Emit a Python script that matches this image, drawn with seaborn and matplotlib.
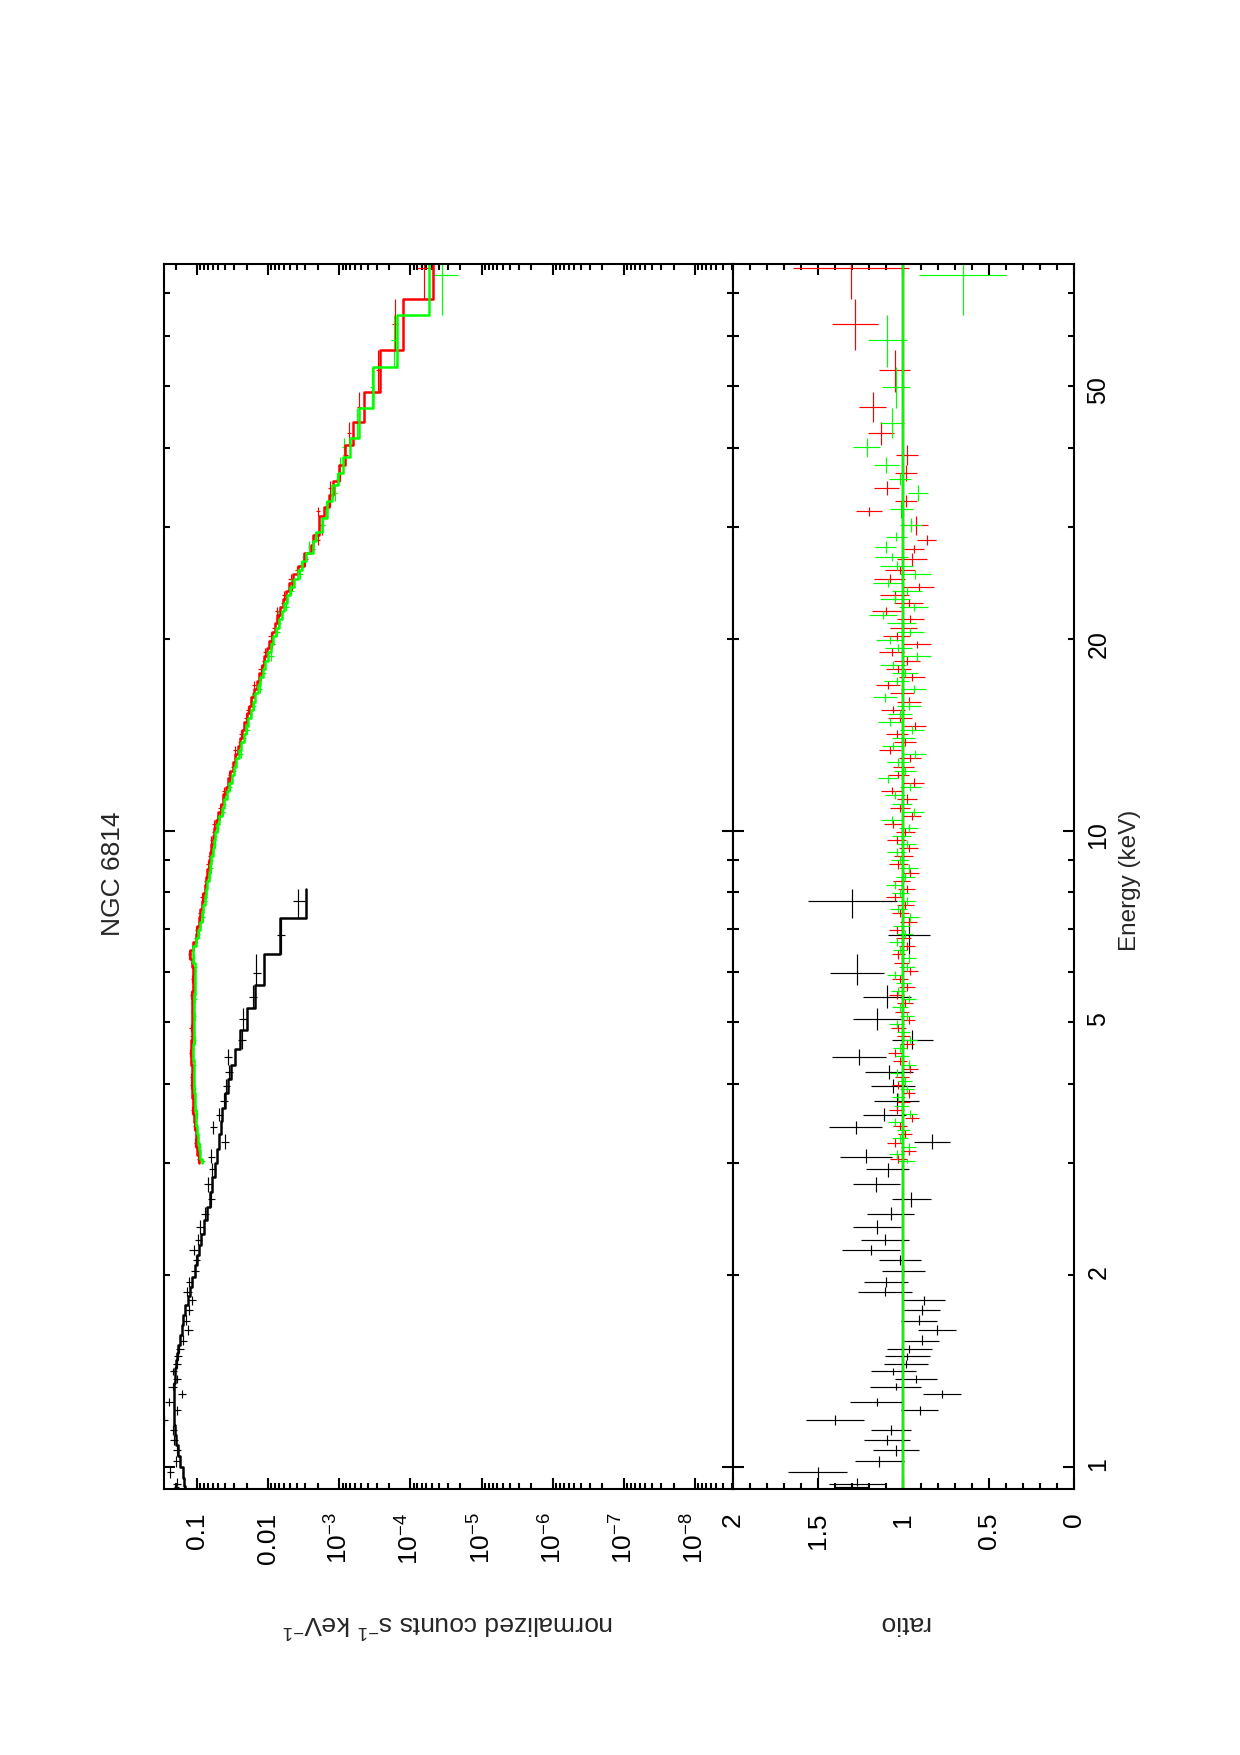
import numpy as np
import pandas as pd
import seaborn as sns
import matplotlib
matplotlib.use("Agg")
import matplotlib.pyplot as plt
from matplotlib.ticker import (FixedLocator, FixedFormatter, FuncFormatter,
                               LogLocator, NullFormatter, MultipleLocator)

# --- low energy spectrum (black), bin centres in keV ---
blk_e = [0.927, 0.939, 0.98, 1.019, 1.06, 1.099, 1.143, 1.184, 1.225, 1.262,
         1.30, 1.336, 1.371, 1.411, 1.451, 1.49, 1.53, 1.578, 1.637, 1.696,
         1.764, 1.829, 1.883, 1.951, 2.029, 2.114, 2.189, 2.272, 2.379, 2.498,
         2.63, 2.778, 2.932, 3.07, 3.24, 3.42, 3.57, 3.76, 3.97, 4.17,
         4.40, 4.68, 5.05, 5.47, 5.98, 6.84, 7.75]
blk_first_edge = 0.915
blk_last_edge = 8.08
blk_model = [0.149, 0.152, 0.158, 0.172, 0.185, 0.195, 0.203, 0.208, 0.211, 0.213,
             0.213, 0.211, 0.207, 0.203, 0.197, 0.190, 0.183, 0.175, 0.165, 0.157,
             0.146, 0.135, 0.126, 0.116, 0.108, 0.100, 0.094, 0.087, 0.080, 0.072,
             0.066, 0.061, 0.056, 0.052, 0.049, 0.0462, 0.0439, 0.0404, 0.0366, 0.0328,
             0.0295, 0.0246, 0.0198, 0.0151, 0.0115, 0.0069, 0.0029]
blk_ratio = [1.30, 1.27, 1.503, 1.142, 1.044, 1.095, 1.075, 1.402, 0.905, 1.157,
             0.772, 1.046, 0.925, 1.06, 0.985, 0.978, 0.966, 0.893, 0.802, 0.911,
             0.891, 0.881, 1.108, 1.103, 1.001, 1.019, 1.19, 1.108, 1.153, 1.075,
             0.954, 1.159, 1.093, 1.218, 0.833, 1.28, 1.112, 1.04, 1.06, 1.087,
             1.259, 0.948, 1.157, 1.097, 1.271, 0.966, 1.30]
blk_err = [0.10, 0.165, 0.173, 0.145, 0.135, 0.136, 0.117, 0.171, 0.107, 0.155,
           0.111, 0.15, 0.122, 0.132, 0.129, 0.131, 0.131, 0.104, 0.113, 0.106,
           0.107, 0.125, 0.16, 0.128, 0.125, 0.122, 0.17, 0.14, 0.141, 0.136,
           0.116, 0.138, 0.127, 0.152, 0.106, 0.155, 0.128, 0.13, 0.13, 0.14,
           0.159, 0.12, 0.14, 0.14, 0.159, 0.124, 0.26]

# --- hard X-ray module A (red), bin edges in keV ---
red_edges = [3.00, 3.09, 3.18, 3.28, 3.38, 3.48, 3.58, 3.69, 3.80, 3.92,
             4.04, 4.16, 4.28, 4.41, 4.54, 4.68, 4.82, 4.96, 5.11, 5.27,
             5.43, 5.59, 5.76, 5.93, 6.11, 6.29, 6.48, 6.68, 6.88, 7.08,
             7.30, 7.52, 7.74, 7.97, 8.21, 8.46, 8.71, 8.98, 9.25, 9.52,
             9.81, 10.1, 10.4, 10.7, 11.0, 11.4, 11.7, 12.1, 12.4, 12.8,
             13.2, 13.6, 14.0, 14.4, 14.8, 15.3, 15.7, 16.2, 16.7, 17.2,
             17.7, 18.2, 18.8, 19.4, 19.9, 20.5, 21.2, 21.8, 22.5, 23.1,
             23.8, 24.5, 25.3, 26.1, 27.3, 28.1, 29.2, 31.2, 32.3, 33.7,
             35.4, 37.6, 40.4, 43.9, 48.9, 56.9, 68.5, 85.0]
red_model = [0.0933, 0.0989, 0.102, 0.105, 0.108, 0.110, 0.113, 0.115, 0.116, 0.118,
             0.119, 0.119, 0.120, 0.120, 0.120, 0.119, 0.119, 0.118, 0.117, 0.116,
             0.116, 0.115, 0.114, 0.114, 0.116, 0.124, 0.115, 0.105, 0.0993, 0.0944,
             0.0897, 0.0857, 0.0818, 0.0782, 0.0746, 0.0714, 0.0684, 0.0655, 0.0630, 0.0605,
             0.0586, 0.0547, 0.0506, 0.0468, 0.0428, 0.0396, 0.0367, 0.0340, 0.0316, 0.0292,
             0.0269, 0.0251, 0.0232, 0.0216, 0.0200, 0.0184, 0.0172, 0.0158, 0.0146, 0.0135,
             0.0124, 0.0115, 0.0105, 0.00966, 0.00891, 0.00813, 0.00741, 0.00676, 0.00617, 0.00562,
             0.00513, 0.00447, 0.0038, 0.00316,
             2.54e-3, 2.33e-3, 1.92e-3, 1.64e-3, 1.39e-3, 1.22e-3, 1.007e-3, 8.37e-4, 6.4e-4,
             4.52e-4, 2.69e-4, 1.29e-4, 4.89e-5]
red_ratio = [1.03, 0.97, 1.05, 0.99, 1.02, 0.95, 1.04, 1.00, 0.97, 1.03,
             1.01, 0.96, 1.02, 1.05, 0.98, 1.00, 1.03, 0.97, 1.01, 0.99,
             1.04, 0.98, 1.02, 0.96, 1.01, 1.03, 0.98, 1.00, 1.04, 0.97,
             1.02, 0.99, 1.05, 0.98, 1.01, 0.96, 1.03, 1.00, 0.97, 1.04,
             0.99,
             1.06, 0.95, 1.02, 0.98, 1.07, 0.94, 1.03, 1.00, 0.96, 1.08,
             0.99, 1.04, 0.93, 1.02, 1.06, 0.97, 1.01, 1.09, 0.95, 1.03,
             0.98, 1.07, 0.92, 1.04, 1.00, 0.96, 1.10, 0.97, 1.05, 0.91,
             1.08, 1.02, 0.95,
             0.937, 0.864, 0.926, 1.203, 0.984, 1.098, 0.984, 0.98, 1.133, 1.181,
             1.052, 1.285, 1.306]
red_err = [0.05, 0.045, 0.045, 0.04, 0.04, 0.04, 0.045, 0.04, 0.04, 0.04,
           0.04, 0.045, 0.04, 0.04, 0.04, 0.04, 0.045, 0.04, 0.04, 0.045,
           0.045, 0.045, 0.045, 0.045, 0.045, 0.04, 0.045, 0.045, 0.045, 0.05,
           0.05, 0.05, 0.05, 0.05, 0.05, 0.05, 0.055, 0.055, 0.055, 0.055,
           0.055,
           0.055, 0.055, 0.06, 0.06, 0.06, 0.06, 0.06, 0.06, 0.065, 0.065,
           0.065, 0.065, 0.065, 0.07, 0.07, 0.07, 0.07, 0.07, 0.075, 0.075,
           0.075, 0.075, 0.08, 0.08, 0.08, 0.08, 0.085, 0.085, 0.085, 0.09,
           0.09, 0.09, 0.09,
           0.06, 0.056, 0.072, 0.077, 0.065, 0.073, 0.065, 0.065, 0.076, 0.08,
           0.09, 0.136, 0.34]

# --- hard X-ray module B (green) ---
grn_edges = [3.00, 3.05, 3.14, 3.23, 3.33, 3.43, 3.53, 3.64, 3.75, 3.86,
             3.98, 4.10, 4.22, 4.35, 4.48, 4.61, 4.75, 4.89, 5.04, 5.19,
             5.35, 5.51, 5.68, 5.85, 6.02, 6.20, 6.39, 6.58, 6.78, 6.98,
             7.19, 7.41, 7.63, 7.86, 8.09, 8.34, 8.59, 8.85, 9.12, 9.39,
             9.67, 9.96, 10.25, 10.55, 10.85, 11.2, 11.55, 11.9, 12.25, 12.6,
             13.0, 13.4, 13.8, 14.2, 14.6, 15.05, 15.5, 15.95, 16.45, 16.95,
             17.45, 17.95, 18.5, 19.1, 19.65, 20.2, 20.85, 21.5, 22.15, 22.8,
             23.45, 24.15, 24.9, 25.7, 26.5, 27.3, 28.5, 29.5, 31.0, 33.0,
             35.0, 36.5, 38.7, 41.4, 46.1, 53.6, 64.7, 85.0]
grn_model = [0.0841, 0.0902, 0.0944, 0.0973, 0.100, 0.102, 0.105, 0.107, 0.108, 0.110,
             0.111, 0.112, 0.112, 0.113, 0.113, 0.112, 0.112, 0.111, 0.110, 0.110,
             0.109, 0.108, 0.108, 0.107, 0.108, 0.114, 0.113, 0.102, 0.0955, 0.0908,
             0.0863, 0.0822, 0.0785, 0.0750, 0.0716, 0.0686, 0.0656, 0.0627, 0.0601, 0.0578,
             0.0558, 0.0531, 0.0490, 0.0453, 0.0416, 0.0382, 0.0354, 0.0327, 0.0304, 0.0281,
             0.0259, 0.0240, 0.0222, 0.0207, 0.0191, 0.0177, 0.0164, 0.0151, 0.0140, 0.0129,
             0.0119, 0.0110, 0.0100, 0.00923, 0.00851, 0.00780, 0.00711, 0.00649, 0.00592, 0.00540,
             0.00492, 0.00439, 0.00382, 0.00333, 0.00290,
             2.38e-3, 2.14e-3, 1.78e-3, 1.51e-3, 1.25e-3, 1.04e-3, 8.85e-4, 7.11e-4, 5.26e-4,
             3.34e-4, 1.57e-4, 5.46e-5]
grn_ratio = [0.98, 1.04, 0.97, 1.02, 1.00, 1.05, 0.96, 1.01, 1.03, 0.98,
             0.99, 1.04, 0.97, 1.01, 1.02, 0.96, 1.00, 1.04, 0.98, 1.02,
             0.97, 1.03, 1.00, 1.05, 0.98, 0.97, 1.02, 1.04, 0.99, 1.01,
             0.96, 1.03, 0.98, 1.02, 1.05, 0.99, 0.97, 1.02, 1.04, 0.98,
             1.01,
             0.97, 1.07, 0.94, 1.01, 1.05, 0.96, 1.09, 0.99, 1.03, 0.93,
             1.06, 1.00, 0.95, 1.08, 1.02, 0.97, 1.11, 0.94, 1.04, 0.99,
             1.06, 0.92, 1.03, 1.08, 0.96, 1.01, 1.12, 0.94, 1.05, 0.98,
             1.09, 0.93, 1.04, 1.07,
             1.105, 1.041, 0.955, 1.012, 0.916, 1.021, 1.101, 1.216, 1.066, 1.043,
             1.095, 0.651]
grn_err = [0.05, 0.045, 0.045, 0.045, 0.04, 0.04, 0.04, 0.045, 0.04, 0.04,
           0.04, 0.04, 0.045, 0.04, 0.04, 0.04, 0.04, 0.045, 0.04, 0.045,
           0.045, 0.045, 0.045, 0.045, 0.045, 0.045, 0.04, 0.045, 0.045, 0.05,
           0.05, 0.05, 0.05, 0.05, 0.05, 0.055, 0.055, 0.055, 0.055, 0.055,
           0.055,
           0.055, 0.06, 0.06, 0.06, 0.06, 0.06, 0.06, 0.065, 0.065, 0.065,
           0.065, 0.065, 0.07, 0.07, 0.07, 0.07, 0.07, 0.075, 0.075, 0.075,
           0.075, 0.08, 0.08, 0.08, 0.08, 0.085, 0.085, 0.085, 0.09, 0.09,
           0.09, 0.09, 0.095, 0.095,
           0.06, 0.062, 0.063, 0.065, 0.06, 0.065, 0.073, 0.08, 0.07, 0.08,
           0.115, 0.255]

# axis ticks and labels
count_ticks = [1e-8, 1e-7, 1e-6, 1e-5, 1e-4, 1e-3, 0.01, 0.1]
count_labels = [r"$\mathregular{10^{-8}}$", r"$\mathregular{10^{-7}}$", r"$\mathregular{10^{-6}}$",
                r"$\mathregular{10^{-5}}$", r"$\mathregular{10^{-4}}$", r"$\mathregular{10^{-3}}$",
                "0.01", "0.1"]
ratio_ticks = [0, 0.5, 1, 1.5, 2]
ratio_labels = ["0", "0.5", "1", "1.5", "2"]
energy_major = [1, 10]
energy_minor = [2, 3, 4, 5, 6, 7, 8, 9, 20, 30, 40, 50, 60, 70]
energy_labelled = [1, 2, 5, 10, 20, 50]

for name, n_bins, lists in [("black", len(blk_e), [blk_model, blk_ratio, blk_err]),
                            ("red", len(red_edges) - 1, [red_model, red_ratio, red_err]),
                            ("green", len(grn_edges) - 1, [grn_model, grn_ratio, grn_err])]:
    assert all(len(l) == n_bins for l in lists), name


def make_table(lo, hi, centre, model, ratio, err):
    df = pd.DataFrame({"lo": lo, "hi": hi, "e": centre, "model": model,
                       "ratio": ratio, "rerr": err})
    df["counts"] = df["model"] * df["ratio"]
    df["cerr"] = df["model"] * df["rerr"]
    return df


# black bin edges sit half way (in log) between the read bin centres
be = np.array(blk_e)
blk_edges = np.concatenate([[blk_first_edge], np.sqrt(be[:-1] * be[1:]), [blk_last_edge]])
df_blk = make_table(blk_edges[:-1], blk_edges[1:], be, blk_model, blk_ratio, blk_err)

re_ = np.array(red_edges)
df_red = make_table(re_[:-1], re_[1:], (re_[:-1] + re_[1:]) / 2, red_model, red_ratio, red_err)
ge = np.array(grn_edges)
df_grn = make_table(ge[:-1], ge[1:], (ge[:-1] + ge[1:]) / 2, grn_model, grn_ratio, grn_err)


def step_path(df):
    xs, ys = [], []
    for lo, hi, m in zip(df["lo"], df["hi"], df["model"]):
        xs += [m, m]
        ys += [lo, hi]
    return pd.DataFrame({"counts": xs, "energy": ys})


sns.set_theme(style="ticks")
plt.rcParams["font.family"] = ["Liberation Sans", "DejaVu Sans"]
plt.rcParams["mathtext.fontset"] = "custom"
plt.rcParams["mathtext.rm"] = "Liberation Sans"
plt.rcParams["mathtext.it"] = "Liberation Sans:italic"
plt.rcParams["mathtext.bf"] = "Liberation Sans:bold"
plt.rcParams["axes.linewidth"] = 1.5
plt.rcParams["axes.edgecolor"] = "black"

fig = plt.figure(figsize=(12.4, 17.55), dpi=100)
ax1 = fig.add_axes([0.1323, 0.1516, 0.4589, 0.6980])
ax2 = fig.add_axes([0.5911, 0.1516, 0.2750, 0.6980], sharey=ax1)

colors = {"black": "black", "red": "#ff0000", "green": "#00ff00"}
sets = [("black", df_blk), ("red", df_red), ("green", df_grn)]

# spectrum panel: energy runs up the page, counts increase to the left
for name, df in sets:
    ax1.errorbar(df["counts"], df["e"], xerr=df["cerr"],
                 yerr=[df["e"] - df["lo"], df["hi"] - df["e"]],
                 fmt="none", ecolor=colors[name], elinewidth=0.85, capsize=0)
for name, df in sets:
    sns.lineplot(data=step_path(df), x="counts", y="energy", sort=False, estimator=None,
                 color=colors[name], lw=1.8, ax=ax1)

# ratio panel
for name, df in sets:
    ax2.errorbar(df["ratio"], df["e"], xerr=df["rerr"],
                 yerr=[df["e"] - df["lo"], df["hi"] - df["e"]],
                 fmt="none", ecolor=colors[name], elinewidth=0.85, capsize=0)
for name, _ in sets:
    ax2.axvline(1.0, color=colors[name], lw=1.6)

# energy axis (shared)
ax1.set_yscale("log")
ax1.set_ylim(0.922, 77.8)
ax1.yaxis.set_major_locator(FixedLocator(energy_major))
ax1.yaxis.set_minor_locator(FixedLocator(energy_minor))
ax1.yaxis.set_major_formatter(FuncFormatter(lambda v, p: f"{v:g}"))
ax1.yaxis.set_minor_formatter(FuncFormatter(
    lambda v, p: f"{v:g}" if int(round(v)) in energy_labelled else ""))

# counts axis
ax1.set_xscale("log")
ax1.set_xlim(0.291, 2.92e-9)
ax1.xaxis.set_major_locator(FixedLocator(count_ticks))
ax1.xaxis.set_major_formatter(FixedFormatter(count_labels))
ax1.xaxis.set_minor_locator(LogLocator(base=10, subs=np.arange(2, 10), numticks=50))
ax1.xaxis.set_minor_formatter(NullFormatter())

# ratio axis
ax2.set_xlim(2, 0)
ax2.xaxis.set_major_locator(FixedLocator(ratio_ticks))
ax2.xaxis.set_major_formatter(FixedFormatter(ratio_labels))
ax2.xaxis.set_minor_locator(MultipleLocator(0.1))

for ax in (ax1, ax2):
    ax.set_xlabel("")
    ax.set_ylabel("")
    ax.tick_params(which="both", direction="in", top=True, bottom=True, left=True,
                   right=True, width=1.5, colors="black")
    ax.tick_params(which="major", length=8)
    ax.tick_params(which="minor", length=4.2)
    ax.tick_params(axis="x", which="major", labelrotation=90, pad=17, labelsize=19)
ax1.tick_params(axis="y", which="both", labelleft=False, labelright=False)
ax2.tick_params(axis="y", which="both", labelleft=False, labelright=True,
                labelrotation=90, pad=9, labelsize=18)

fig.text(113 / 1240, 1 - 874 / 1755, "NGC 6814", rotation=90, ha="center", va="center", fontsize=19)
fig.text(1130 / 1240, 1 - 880 / 1755, "Energy (keV)", rotation=90, ha="center", va="center", fontsize=17.5)
fig.text(448 / 1240, 1 - 1623 / 1755, r"normalized counts s$^{-1}$ keV$^{-1}$", rotation=180,
         ha="center", va="center", fontsize=19)
fig.text(904 / 1240, 1 - 1623 / 1755, "ratio", rotation=180, ha="center", va="center", fontsize=19)

fig.savefig("out.png", dpi=100, facecolor="white")
